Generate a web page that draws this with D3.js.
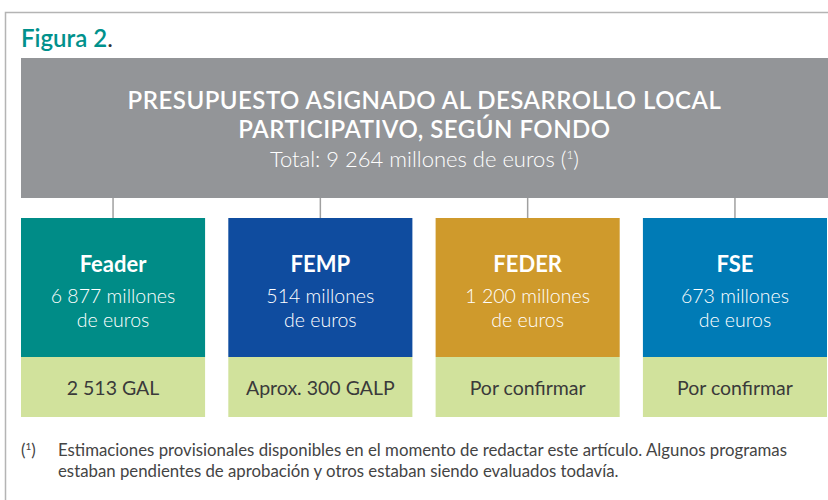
<!DOCTYPE html>
<html>
<head>
<meta charset="utf-8">
<script src="https://cdn.jsdelivr.net/npm/d3@7"></script>
<style>
  html, body { margin: 0; padding: 0; background: #fff; }
  svg { display: block; font-family: Lato, 'Open Sans', sans-serif; }
</style>
</head>
<body>
<div id="chart"></div>
<script>
// datos del gráfico
const funds = ['Feader', 'FEMP', 'FEDER', 'FSE']
const amounts = [6877, 514, 1200, 673]
const groups = ['2 513 GAL', 'Aprox. 300 GALP', 'Por confirmar', 'Por confirmar']
const fundColors = ['#008c87', '#0f4c9f', '#cf9a2c', '#007bb6']
const titleLines = ['PRESUPUESTO ASIGNADO AL DESARROLLO LOCAL', 'PARTICIPATIVO, SEGÚN FONDO']
const footLines = [
  'Estimaciones provisionales disponibles en el momento de redactar este artículo. Algunos programas',
  'estaban pendientes de aprobación y otros estaban siendo evaluados todavía.'
]

const W = 828, H = 500
const es = d3.formatLocale({ decimal: ',', thousands: '\u00a0', grouping: [3], currency: ['', ' €'] })
const fmt = es.format(',d')

const svg = d3.select('#chart').append('svg')
  .attr('width', W)
  .attr('height', H)

// marco exterior
svg.append('path')
  .attr('d', `M5.5,${H}V12.5H${W}`)
  .attr('fill', 'none')
  .attr('stroke', '#b4b4b4')
  .attr('stroke-width', 1.5)

// "Figura 2."
const fig = svg.append('text')
  .attr('x', 21)
  .attr('y', 47)
  .style('font-size', '24px')
  .style('font-weight', 600)
  .style('fill', '#00918c')
fig.append('tspan').text('Figura 2')
fig.append('tspan').style('fill', '#333').style('font-weight', 400).text('.')

const x = d3.scaleBand()
  .domain(funds)
  .range([21, 827])
  .paddingInner(0.112)

const color = d3.scaleOrdinal().domain(funds).range(fundColors)

const head = { top: 58, bottom: 198 }
const box = { top: 218, mid: 357, bottom: 417 }
const cx = (W - 21) / 2 + 21

// cabecera gris
svg.append('rect')
  .attr('x', 21)
  .attr('y', head.top)
  .attr('width', W - 21)
  .attr('height', head.bottom - head.top)
  .attr('fill', '#939598')

const title = svg.append('g')
  .attr('text-anchor', 'middle')
  .style('fill', '#fff')

title.selectAll('text.t')
  .data(titleLines)
  .join('text')
  .attr('class', 't')
  .attr('x', cx)
  .attr('y', (d, i) => 109 + i * 29)
  .style('font-size', '24px')
  .style('font-weight', 600)
  .style('letter-spacing', '0.5px')
  .text(d => d)

const total = title.append('text')
  .attr('x', cx)
  .attr('y', 167)
  .style('font-size', '22px')
  .style('font-weight', 300)
total.append('tspan').text(`Total: ${fmt(d3.sum(amounts))} millones de euros (`)
total.append('tspan').attr('dy', -8).style('font-size', '12px').text('1')
total.append('tspan').attr('dy', 8).text(')')

// conectores
svg.append('g')
  .attr('stroke', '#a0a0a0')
  .attr('stroke-width', 1.5)
  .selectAll('line')
  .data(funds)
  .join('line')
  .attr('x1', d => x(d) + x.bandwidth() / 2)
  .attr('x2', d => x(d) + x.bandwidth() / 2)
  .attr('y1', head.bottom)
  .attr('y2', box.top)

// cajas por fondo
const g = svg.append('g')
  .selectAll('g.fund')
  .data(funds.map((f, i) => ({ fund: f, amount: amounts[i], group: groups[i] })))
  .join('g')
  .attr('class', 'fund')
  .attr('transform', d => `translate(${x(d.fund)},0)`)

g.append('rect')
  .attr('y', box.top)
  .attr('width', x.bandwidth())
  .attr('height', box.mid - box.top)
  .attr('fill', d => color(d.fund))

g.append('rect')
  .attr('y', box.mid)
  .attr('width', x.bandwidth())
  .attr('height', box.bottom - box.mid)
  .attr('fill', '#d1e29c')

const mid = x.bandwidth() / 2

g.append('text')
  .attr('x', mid)
  .attr('y', 272)
  .attr('text-anchor', 'middle')
  .style('font-size', '22px')
  .style('font-weight', 700)
  .style('fill', '#fff')
  .text(d => d.fund)

g.append('text')
  .attr('x', mid)
  .attr('y', 303)
  .attr('text-anchor', 'middle')
  .style('font-size', '19.5px')
  .style('font-weight', 300)
  .style('fill', '#fff')
  .text(d => `${fmt(d.amount)} millones`)

g.append('text')
  .attr('x', mid)
  .attr('y', 327)
  .attr('text-anchor', 'middle')
  .style('font-size', '19.5px')
  .style('font-weight', 300)
  .style('fill', '#fff')
  .text('de euros')

g.append('text')
  .attr('x', mid)
  .attr('y', 395)
  .attr('text-anchor', 'middle')
  .style('font-size', '19.5px')
  .style('font-weight', 400)
  .style('fill', '#3a3a3a')
  .text(d => d.group)

// nota al pie
const foot = svg.append('g')
  .style('font-size', '16.8px')
  .style('fill', '#444')

const mark = foot.append('text')
  .attr('x', 21)
  .attr('y', 456)
mark.append('tspan').text('(')
mark.append('tspan').attr('dy', -6).style('font-size', '10px').text('1')
mark.append('tspan').attr('dy', 6).text(')')

foot.selectAll('text.fn')
  .data(footLines)
  .join('text')
  .attr('class', 'fn')
  .attr('x', 58)
  .attr('y', (d, i) => 456 + i * 21)
  .text(d => d)
</script>
</body>
</html>
